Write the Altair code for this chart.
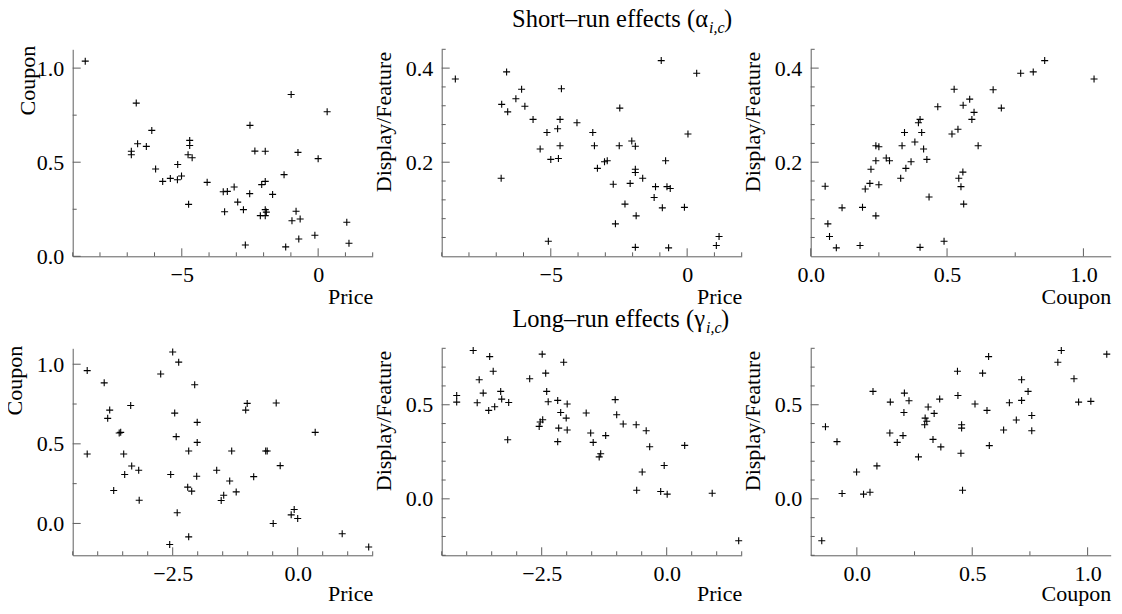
import altair as alt
import pandas as pd

# ---------------- Short-run effects ----------------
# Panel 1: Price (x) vs Coupon (y)
sr1_price = [-8.54, -6.67, -6.10, -6.62, -6.30, -6.85, -6.85, -5.96, -5.70, -5.42,
             -5.16, -5.01, -5.15, -4.71, -4.71, -4.77, -4.62, -4.75, -4.07, -3.48,
             -3.33, -3.08, -3.43, -2.95, -2.74, -2.50, -2.51, -2.67, -2.32, -1.94,
             -2.07, -1.94, -1.67, -1.94, -1.90, -2.12, -1.94, -0.99, -1.25, -0.74,
             -0.81, -0.96, -0.66, -0.71, -1.19, -0.12, 0.00, 0.33, 1.05, 1.13]
sr1_coupon = [1.037, 0.814, 0.669, 0.598, 0.584, 0.558, 0.540, 0.464, 0.398, 0.414,
              0.407, 0.427, 0.488, 0.616, 0.589, 0.540, 0.524, 0.276, 0.393, 0.343,
              0.345, 0.368, 0.237, 0.288, 0.248, 0.696, 0.333, 0.060, 0.559, 0.558,
              0.381, 0.398, 0.329, 0.248, 0.235, 0.216, 0.216, 0.860, 0.434, 0.552,
              0.239, 0.189, 0.198, 0.092, 0.050, 0.112, 0.519, 0.768, 0.181, 0.069]

# Panel 2: Price (x) vs Display/Feature (y)
sr2_price = [-8.50, -6.62, -6.80, -6.58, -6.82, -6.28, -6.07, -5.95, -5.65, -5.14,
             -5.39, -5.00, -4.72, -4.61, -4.66, -4.75, -4.66, -5.09, -4.04, -3.46,
             -3.40, -3.29, -3.03, -2.93, -2.71, -2.63, -2.47, -2.49, -2.28, -2.03,
             -1.90, -1.90, -1.90, -2.09, -1.63, -1.87, -1.90, -0.95, -1.16, -1.21,
             -0.79, -0.74, -0.62, -0.91, -0.68, -0.10, 0.03, 0.35, 1.17, 1.07]
sr2_display = [0.377, 0.392, 0.323, 0.307, 0.166, 0.335, 0.355, 0.319, 0.291, 0.263,
               0.228, 0.206, 0.208, 0.356, 0.291, 0.271, 0.235, 0.032, 0.284, 0.263,
               0.235, 0.187, 0.201, 0.203, 0.153, 0.069, 0.315, 0.235, 0.111, 0.245,
               0.234, 0.185, 0.178, 0.155, 0.166, 0.086, 0.019, 0.416, 0.148, 0.125,
               0.203, 0.148, 0.144, 0.103, 0.018, 0.104, 0.260, 0.389, 0.042, 0.023]

# Panel 3: Coupon (x) vs Display/Feature (y)
sr3_coupon = [0.053, 0.063, 0.069, 0.094, 0.115, 0.181, 0.190, 0.200, 0.217, 0.221,
              0.239, 0.239, 0.239, 0.250, 0.250, 0.277, 0.289, 0.330, 0.335, 0.344,
              0.349, 0.368, 0.382, 0.395, 0.401, 0.407, 0.414, 0.426, 0.434, 0.401,
              0.466, 0.489, 0.526, 0.518, 0.540, 0.559, 0.583, 0.599, 0.591, 0.558,
              0.543, 0.551, 0.561, 0.614, 0.669, 0.699, 0.770, 0.816, 0.858, 1.039]
sr3_display = [0.149, 0.069, 0.042, 0.018, 0.103, 0.023, 0.104, 0.143, 0.155, 0.185,
               0.086, 0.203, 0.235, 0.233, 0.152, 0.209, 0.203, 0.166, 0.235, 0.263,
               0.187, 0.201, 0.243, 0.284, 0.291, 0.263, 0.228, 0.206, 0.126, 0.019,
               0.318, 0.032, 0.355, 0.260, 0.270, 0.321, 0.334, 0.306, 0.291, 0.179,
               0.166, 0.148, 0.111, 0.235, 0.354, 0.315, 0.389, 0.392, 0.416, 0.377]

# ---------------- Long-run effects ----------------
# Panel 4: Price (x) vs Coupon (y)
lr1_price = [-4.21, -4.21, -3.87, -3.76, -3.80, -3.34, -3.57, -3.54, -3.48, -3.32,
             -3.46, -3.18, -3.68, -3.17, -2.74, -2.50, -2.38, -2.46, -2.43, -2.54,
             -2.41, -2.56, -2.18, -2.06, -2.01, -2.01, -2.18, -2.02, -2.20, -2.12,
             -1.62, -1.32, -1.36, -1.48, -1.53, -1.23, -1.01, -1.04, -0.88, -0.64,
             -0.61, -0.43, -0.35, -0.49, -0.07, -0.13, 0.00, 0.35, 0.89, 1.42]
lr1_coupon = [0.960, 0.436, 0.883, 0.712, 0.660, 0.741, 0.568, 0.572, 0.436, 0.361,
              0.307, 0.334, 0.207, 0.146, 0.939, 1.077, 1.013, 0.693, 0.545, 0.307,
              0.067, -0.132, -0.084, 0.871, 0.635, 0.509, 0.455, 0.296, 0.228, 0.203,
              0.334, 0.455, 0.267, 0.177, 0.144, 0.198, 0.754, 0.712, 0.294, 0.455,
              0.455, 0.756, 0.363, 0.000, 0.088, 0.054, 0.031, 0.572, -0.065, -0.148]

# Panel 5: Price (x) vs Display/Feature (y)
lr2_price = [-4.20, -4.20, -3.87, -3.75, -3.79, -3.67, -3.54, -3.47, -3.56, -3.44,
             -3.32, -3.30, -3.16, -3.18, -2.74, -2.49, -2.42, -2.40, -2.37, -2.48,
             -2.53, -2.55, -2.06, -2.18, -1.99, -2.12, -2.01, -2.16, -1.99, -2.18,
             -1.61, -1.52, -1.47, -1.22, -1.32, -1.35, -1.03, -1.00, -0.87, -0.61,
             -0.41, -0.34, -0.49, -0.60, -0.05, -0.12, 0.01, 0.36, 0.91, 1.44]
lr2_display = [0.549, 0.514, 0.788, 0.633, 0.511, 0.562, 0.756, 0.678, 0.470, 0.489,
               0.571, 0.530, 0.512, 0.314, 0.638, 0.769, 0.668, 0.571, 0.516, 0.420,
               0.408, 0.385, 0.726, 0.523, 0.504, 0.459, 0.429, 0.376, 0.366, 0.304,
               0.456, 0.350, 0.300, 0.336, 0.240, 0.223, 0.527, 0.447, 0.398, 0.394,
               0.362, 0.277, 0.143, 0.046, 0.177, 0.039, 0.025, 0.284, 0.030, -0.223]

# Panel 6: Coupon (x) vs Display/Feature (y)
lr3_coupon = [-0.152, -0.136, -0.086, -0.064, -0.001, 0.029, 0.057, 0.070, 0.087, 0.145,
              0.143, 0.175, 0.200, 0.204, 0.206, 0.226, 0.267, 0.296, 0.309, 0.303,
              0.294, 0.335, 0.330, 0.359, 0.364, 0.436, 0.438, 0.454, 0.454, 0.451,
              0.458, 0.512, 0.545, 0.564, 0.571, 0.574, 0.636, 0.661, 0.691, 0.714,
              0.714, 0.742, 0.758, 0.758, 0.871, 0.886, 0.941, 0.961, 1.014, 1.083]
lr3_display = [-0.223, 0.383, 0.304, 0.028, 0.143, 0.025, 0.035, 0.571, 0.175, 0.514,
               0.350, 0.300, 0.336, 0.459, 0.562, 0.521, 0.223, 0.429, 0.488, 0.412,
               0.394, 0.454, 0.316, 0.530, 0.276, 0.678, 0.549, 0.394, 0.376, 0.242,
               0.046, 0.504, 0.668, 0.470, 0.756, 0.283, 0.366, 0.511, 0.419, 0.523,
               0.633, 0.571, 0.443, 0.362, 0.726, 0.788, 0.638, 0.514, 0.518, 0.769]

# ---------------- Axis ticks (major = labelled) ----------------
sr_price_major = [-5, 0]
sr_price_minor = [-9, -8, -7, -6, -4, -3, -2, -1, 1, 2]
sr_coupon_major = [0.0, 0.5, 1.0]
sr_coupon_minor = [0.25, 0.75]
sr_display_major = [0.2, 0.4]
sr_display_minor = [0.04, 0.08, 0.12, 0.16, 0.24, 0.28, 0.32, 0.36, 0.44]
lr_price_major = [-2.5, 0.0]
lr_price_minor = [-4.5, -4.0, -3.5, -3.0, -2.0, -1.5, -1.0, -0.5, 0.5, 1.0, 1.5]
lr_coupon_major = [0.0, 0.5, 1.0]
lr_coupon_minor = [0.25, 0.75]
lr_display_major = [0.0, 0.5]
lr_display_minor = [-0.3, -0.2, -0.1, 0.1, 0.2, 0.3, 0.4, 0.6, 0.7, 0.8]

heading_short = "Short\u2013run effects (\u03b1"
heading_long = "Long\u2013run effects (\u03b3"
heading_sub = "i,c"
heading_close = ")"

FONT = "Liberation Serif"
AX = "#5e5e5e"
W, H = 300, 207
PLUS = "M-1,0L1,0M0,-1L0,1"


def heading_layers(main, x_end, y_base):
    t1 = alt.Chart(pd.DataFrame({"t": [main]})).mark_text(
        font=FONT, fontSize=24.5, align="right", baseline="alphabetic", color="black"
    ).encode(x=alt.value(x_end), y=alt.value(y_base), text="t:N")
    t2 = alt.Chart(pd.DataFrame({"t": [heading_sub]})).mark_text(
        font=FONT, fontSize=16, fontStyle="italic", align="left", baseline="alphabetic", color="black"
    ).encode(x=alt.value(x_end + 1), y=alt.value(y_base + 6), text="t:N")
    t3 = alt.Chart(pd.DataFrame({"t": [heading_close]})).mark_text(
        font=FONT, fontSize=24.5, align="left", baseline="alphabetic", color="black"
    ).encode(x=alt.value(x_end + 16), y=alt.value(y_base), text="t:N")
    return [t1, t2, t3]


def panel(xs, ys, xdom, ydom, xmaj, xmin, ymaj, ymin, xfmt, yfmt, xtitle, ytitle,
          ytx=-46, yty=0, xty=47, extra=None):
    df = pd.DataFrame({"x": xs, "y": ys})
    xsc = alt.Scale(domain=xdom, nice=False, zero=False)
    ysc = alt.Scale(domain=ydom, nice=False, zero=False)
    xaxis = alt.Axis(values=xmaj, format=xfmt, title=xtitle, ticks=False, tickSize=0,
                     grid=False, labelPadding=8, labelFlush=False, labelOverlap=False,
                     titleX=W, titleY=xty, titleAlign="right", titleBaseline="alphabetic")
    yaxis = alt.Axis(values=ymaj, format=yfmt, title=ytitle, ticks=False, tickSize=0,
                     grid=False, labelPadding=9, labelFlush=False, labelOverlap=False,
                     titleX=ytx, titleY=yty, titleAlign="right", titleBaseline="bottom")
    pts = alt.Chart(df).mark_point(
        shape=PLUS, size=49, filled=False, color="black", strokeWidth=1.1, opacity=1
    ).encode(x=alt.X("x:Q", scale=xsc, axis=xaxis), y=alt.Y("y:Q", scale=ysc, axis=yaxis))

    def xt(vals, L):
        return alt.Chart(pd.DataFrame({"x": vals})).mark_rule(color=AX, strokeWidth=1).encode(
            x=alt.X("x:Q", scale=xsc, axis=xaxis), y=alt.value(H), y2=alt.value(H - L))

    def yt(vals, L):
        return alt.Chart(pd.DataFrame({"y": vals})).mark_rule(color=AX, strokeWidth=1).encode(
            y=alt.Y("y:Q", scale=ysc, axis=yaxis), x=alt.value(0), x2=alt.value(L))

    layers = [pts, xt(xmin, 4), xt(xmaj, 8), yt(ymin, 4), yt(ymaj, 8)]
    if extra:
        layers += extra
    return alt.layer(*layers).properties(width=W, height=H)


p1 = panel(sr1_price, sr1_coupon, [-9, 2], [0, 1.1], sr_price_major, sr_price_minor,
           sr_coupon_major, sr_coupon_minor, "d", ".1f", "Price", "Coupon", ytx=-33, yty=-4)
p2 = panel(sr2_price, sr2_display, [-9, 2], [0, 0.44], sr_price_major, sr_price_minor,
           sr_display_major, sr_display_minor, "d", ".1f", "Price", "Display/Feature", yty=2,
           extra=heading_layers(heading_short, 266.3, -22.6))
p3 = panel(sr3_coupon, sr3_display, [0, 1.1], [0, 0.44], [0.0, 0.5, 1.0], [0.25, 0.75],
           sr_display_major, sr_display_minor, ".1f", ".1f", "Coupon", "Display/Feature", yty=2)
p4 = panel(lr1_price, lr1_coupon, [-4.5, 1.5], [-0.2, 1.1], lr_price_major, lr_price_minor,
           lr_coupon_major, lr_coupon_minor, ".1f", ".1f", "Price", "Coupon", yty=-3, xty=45)
p5 = panel(lr2_price, lr2_display, [-4.5, 1.5], [-0.3, 0.8], lr_price_major, lr_price_minor,
           lr_display_major, lr_display_minor, ".1f", ".1f", "Price", "Display/Feature", yty=2,
           xty=45, extra=heading_layers(heading_long, 263.3, -21.6))
p6 = panel(lr3_coupon, lr3_display, [-0.2, 1.1], [-0.3, 0.8], [0.0, 0.5, 1.0], [0.25, 0.75],
           lr_display_major, lr_display_minor, ".1f", ".1f", "Coupon", "Display/Feature", yty=2,
           xty=45)

chart = alt.concat(p1, p2, p3, p4, p5, p6, columns=3, spacing={"row": 92, "column": 69}).properties(
    bounds="flush",
    autosize=alt.AutoSizeParams(type="none"),
    padding={"left": 64.7, "top": 41.3, "right": 1040, "bottom": 556.5},
).configure_axis(
    labelFont=FONT, labelFontSize=22, labelColor="black",
    titleFont=FONT, titleFontSize=22, titleFontWeight="normal", titleColor="black",
    domainColor=AX, domainWidth=1,
).configure_view(stroke=None)

chart.save("out.html", embed_options={"renderer": "svg", "actions": False})
